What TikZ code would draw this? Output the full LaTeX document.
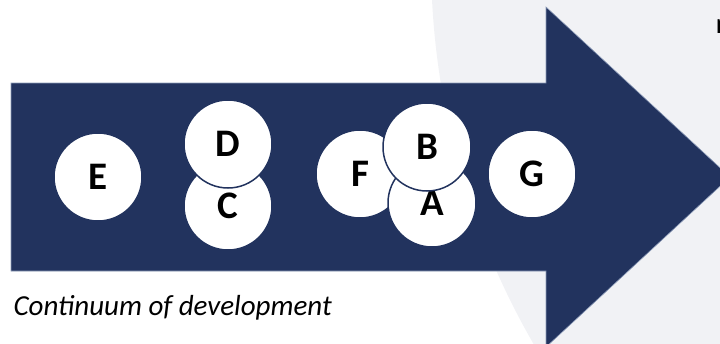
\documentclass[tikz,border=0pt]{standalone}
\usepackage{fontspec}
\setmainfont{Carlito}
\definecolor{navy}{HTML}{22335E}
\definecolor{paper}{HTML}{F1F2F5}
\definecolor{rim}{HTML}{8C9BB8}

\begin{document}
\begin{tikzpicture}[x=1pt,y=-1pt]
\useasboundingbox (0,0) rectangle (720,343);
\clip (0,0) rectangle (720,343);

% pale backdrop and the big arrow
\fill[paper] (1200,-40) circle[radius=769];
\filldraw[fill=navy,draw=rim,line width=0.6pt]
    (11,83) -- (546,83) -- (546,7) -- (730,177) -- (546,347) -- (546,271) -- (11,271) -- cycle;

\begin{scope}[every node/.style={circle,draw=navy,line width=1.5pt,fill=white,
    minimum size=88pt,inner sep=0pt,font=\fontsize{39}{39}\selectfont\bfseries}]
    \node (E) at (98,177) {E};
    \node (C) at (228,206) {C};
    \node (D) at (228,144) {D};
    \node (F) at (360,174) {F};
    \node (A) at (432,203) {A};
    \node (B) at (427,147) {B};
    \node (G) at (532,174) {G};
\end{scope}

\begin{scope}[every node/.style={anchor=base west,font=\fontsize{29}{29}\selectfont}]
    \node[font=\fontsize{29}{29}\selectfont\itshape] (caption) at (10,315) {Continuum of development};
    \node (more) at (712,33) {m};
\end{scope}
\end{tikzpicture}
\end{document}
